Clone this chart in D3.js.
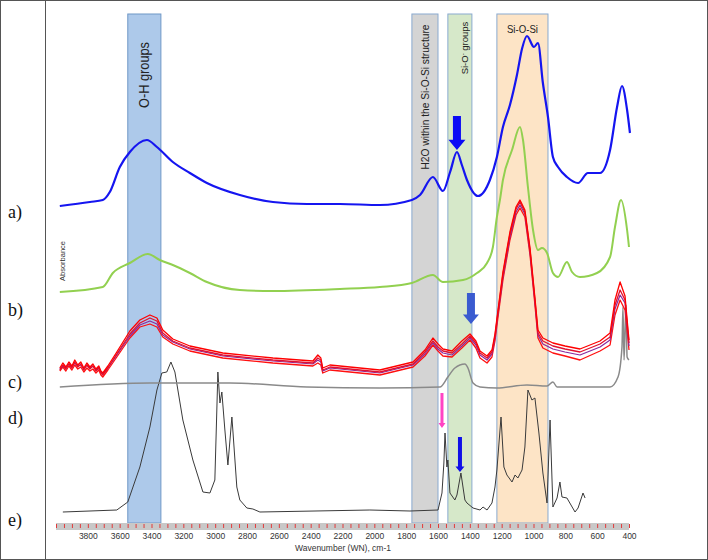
<!DOCTYPE html>
<html>
<head>
<meta charset="utf-8">
<script src="https://cdn.jsdelivr.net/npm/d3@7"></script>
<style>
  body { margin: 0; background: #fff; }
  svg { display: block; font-family: "Liberation Sans", Arial, sans-serif; }
</style>
</head>
<body>
<div id="chart"></div>
<script>
// spectra: wavenumber (cm-1) and stacked absorbance (arbitrary units)
const blueWN = [3976,3787,3706,3662,3599,3536,3429,3366,3266,3159,3052,2845,2637,2424,2216,1965,1764,1713,1632,1569,1524,1481,1450,1418,1349,1274,1230,1192,1148,1104,1071,1041,997,972,941,909,878,846,790,720,658,582,519,475,444,412,394];
const blueAbs = [33.4,33.8,34.0,34.8,37.3,38.8,40.0,39.3,37.8,36.7,35.7,34.5,33.8,33.6,33.6,33.5,34.0,34.5,36.3,34.9,36.8,38.8,37.5,36.0,34.4,36.0,38.3,41.3,43.5,46.5,49.2,50.4,49.3,49.7,45.7,42.3,38.3,37.3,36.3,35.7,36.7,36.7,39.0,43.3,45.4,43.0,40.7];

const greenWN = [3976,3706,3643,3536,3423,3348,3266,3159,3052,2845,2637,2216,1965,1764,1632,1569,1443,1355,1292,1255,1230,1211,1192,1135,1085,1066,1035,1003,972,947,915,878,846,790,758,708,601,519,488,450,412,400];
const greenAbs = [24.8,25.3,26.7,27.7,28.6,28.0,27.5,26.7,25.8,25.0,24.9,25.1,25.3,25.7,26.5,25.8,26.0,26.7,27.7,29.3,32.3,34.0,36.0,39.0,41.3,40.0,35.3,31.0,29.0,29.2,28.7,26.7,26.3,27.8,26.8,26.3,26.7,28.3,31.3,34.0,31.0,29.3];

const redWN = [3976,3957,3938,3919,3900,3882,3863,3844,3825,3806,3787,3768,3749,3731,3718,3706,3674,3618,3536,3473,3410,3366,3329,3266,3159,2952,2637,2386,2355,2336,2324,2279,1965,1757,1682,1632,1600,1569,1512,1450,1399,1362,1336,1292,1261,1242,1223,1192,1148,1110,1085,1054,1022,991,972,941,878,802,708,582,519,488,456,425,406,400];
const redA = [17.2,17.7,17.3,17.8,17.4,18.0,17.5,17.8,17.2,17.7,17.3,17.6,17.1,17.4,16.9,16.7,17.4,18.8,20.9,22.0,22.5,22.2,21.0,20.1,19.4,18.7,18.2,17.9,18.5,18.2,17.2,17.5,17.0,17.8,19.0,20.2,19.6,19.1,18.9,19.9,20.6,19.9,18.9,18.4,19.0,20.6,23.0,26.8,30.8,33.3,34.0,33.0,29.2,24.2,21.0,20.2,19.7,19.4,19.1,19.9,20.7,24.0,25.8,24.4,21.0,20.0];
const redB = [17.0,17.5,17.1,17.6,17.2,17.8,17.3,17.6,17.0,17.5,17.1,17.4,16.9,17.2,16.7,16.5,17.2,18.6,20.6,21.7,22.2,21.9,20.7,19.9,19.2,18.5,18.0,17.7,18.2,18.0,17.0,17.3,16.8,17.6,18.8,19.9,19.3,18.9,18.7,19.6,20.4,19.7,18.7,18.2,18.8,20.4,22.8,26.6,30.6,33.1,33.8,32.8,29.0,24.0,20.7,19.9,19.4,19.1,18.8,19.6,20.3,23.5,25.0,24.0,20.7,19.7];
const redC = [17.1,17.4,17.2,17.6,17.3,17.7,17.4,17.5,17.1,17.5,17.2,17.4,17.0,17.3,16.8,16.6,17.2,18.5,20.4,21.5,21.9,21.6,20.5,19.8,19.1,18.4,17.9,17.6,18.0,17.8,16.9,17.2,16.7,17.5,18.6,19.7,19.1,18.7,18.5,19.4,20.2,19.5,18.5,18.0,18.6,20.2,22.6,26.3,30.3,32.8,33.5,32.6,28.8,23.8,20.5,19.6,19.1,18.8,18.5,19.3,20.0,23.1,24.5,23.7,20.4,19.4];
const redD = [16.9,17.3,16.9,17.4,17.0,17.5,17.1,17.3,16.8,17.2,16.9,17.1,16.7,17.0,16.5,16.3,17.0,18.3,20.2,21.3,21.6,21.3,20.3,19.6,18.9,18.2,17.7,17.4,17.7,17.5,16.7,17.0,16.5,17.3,18.4,19.5,18.9,18.4,18.3,19.2,20.0,19.2,18.2,17.7,18.3,19.9,22.3,26.0,30.0,32.5,33.2,32.3,28.5,23.5,20.2,19.2,18.7,18.4,18.0,18.9,19.5,22.5,24.0,23.0,20.0,19.0];

const grayWN = [3976,3410,2908,2424,1965,1588,1538,1494,1431,1412,1380,1336,1230,1041,915,878,852,519,469,444,438,431,419,412,400];
const grayAbs = [15.3,15.7,15.7,15.3,15.2,15.3,16.3,17.2,17.6,17.2,15.7,15.3,15.2,15.5,15.4,15.8,15.3,15.3,16.3,19.3,23.3,18.0,23.5,18.3,18.0];

const blackWN = [3957,3618,3549,3473,3410,3366,3335,3304,3278,3253,3203,3140,3077,3033,3002,2989,2983,2970,2958,2939,2920,2895,2889,2864,2845,2801,2763,2719,2028,1776,1600,1575,1563,1556,1544,1538,1525,1494,1481,1456,1431,1418,1380,1336,1317,1292,1261,1242,1230,1204,1186,1167,1135,1116,1098,1072,1054,1035,1010,991,966,941,915,896,878,852,834,821,790,739,720,689,676];
const blackAbs = [2.8,3.0,3.8,7.3,11.3,15.0,16.7,16.8,17.8,16.8,12.0,8.0,4.8,4.7,6.0,13.3,16.8,13.7,14.8,11.0,7.5,12.3,11.0,5.3,4.0,3.2,3.1,2.8,3.0,2.9,3.0,4.7,7.7,10.7,7.3,8.0,4.7,4.0,4.5,6.7,4.0,3.7,3.2,3.0,3.3,3.0,3.7,5.3,7.0,12.3,7.3,6.5,5.8,6.5,6.2,7.0,9.3,15.0,14.0,14.2,10.7,6.7,3.7,12.0,3.3,4.2,5.8,4.3,4.2,2.8,3.2,4.7,4.2];

// shaded assignment bands
const bandFrom = [3549, 1764, 1538, 1230];
const bandTo = [3341, 1600, 1387, 909];
const bandFill = ["#adc9ea", "#d4d4d4", "#d6e8c9", "#fde4c6"];

// tick labels
const tickLabels = [3800,3600,3400,3200,3000,2800,2600,2400,2200,2000,1800,1600,1400,1200,1000,800,600,400];
const minorTicks = d3.range(4000, 399, -50);

// arrows: wavenumber, top and tip absorbance
const arrowWN = [1481, 1393, 1575, 1462];
const arrowTop = [42.4, 24.7, 14.7, 10.3];
const arrowTip = [39.0, 21.6, 11.2, 6.8];
const arrowColor = ["#0a0af5", "#3a5bd0", "#ff44c4", "#1010e8"];
const arrowShaft = [8, 8, 3, 4];
const arrowHead = [17, 16, 7, 9];

const sampleLabels = ["a)", "b)", "c)", "d)", "e)"];
const sampleLabelY = [218, 316, 388, 424, 526];

const W = 708, H = 560;
const svg = d3.select("#chart").append("svg").attr("width", W).attr("height", H);

const x = d3.scaleLinear().domain([4000, 400]).range([56, 629]);
const y = d3.scaleLinear().domain([0, 52]).range([540, 20]);

// frame
svg.append("rect").attr("x", 0.5).attr("y", 0.5).attr("width", W - 1).attr("height", H - 1)
    .attr("fill", "none").attr("stroke", "#555");
svg.append("line").attr("x1", 45.5).attr("x2", 45.5).attr("y1", 0).attr("y2", H)
    .attr("stroke", "#555");

// bands
svg.selectAll("rect.band")
    .data(bandFrom)
    .enter().append("rect")
    .attr("class", "band")
    .attr("x", (d, i) => x(d))
    .attr("width", (d, i) => x(bandTo[i]) - x(d))
    .attr("y", 14)
    .attr("height", 509)
    .attr("fill", (d, i) => bandFill[i])
    .attr("stroke", (d, i) => i === 0 ? "#6f97c6" : "#8aaad0")
    .attr("stroke-width", 1);

function bandMid(i) { return (x(bandFrom[i]) + x(bandTo[i])) / 2; }

// band titles
svg.append("text")
    .attr("transform", `translate(${bandMid(0) + 5},75) rotate(-90)`)
    .attr("text-anchor", "middle")
    .attr("font-size", 14).attr("fill", "#222")
    .attr("textLength", 66).attr("lengthAdjust", "spacingAndGlyphs")
    .text("O-H groups");

svg.append("text")
    .attr("transform", `translate(${bandMid(1) + 4},97) rotate(-90)`)
    .attr("text-anchor", "middle")
    .attr("font-size", 10.5).attr("fill", "#222")
    .attr("textLength", 145).attr("lengthAdjust", "spacingAndGlyphs")
    .text("H2O within the Si-O-Si structure");

const siO = svg.append("text")
    .attr("transform", `translate(${bandMid(2) + 8},48) rotate(-90)`)
    .attr("text-anchor", "middle")
    .attr("font-size", 9.5).attr("fill", "#222");
siO.append("tspan").text("Si-O");
siO.append("tspan").attr("dy", -3).attr("font-size", 6).text("-");
siO.append("tspan").attr("dy", 3).text(" groups");

svg.append("text")
    .attr("x", bandMid(3)).attr("y", 33)
    .attr("text-anchor", "middle")
    .attr("font-size", 10.5).attr("fill", "#222")
    .attr("textLength", 31).attr("lengthAdjust", "spacingAndGlyphs")
    .text("Si-O-Si");

// spectra
const smooth = d3.line().x(d => x(d[0])).y(d => y(d[1])).curve(d3.curveMonotoneX);
const rough = d3.line().x(d => x(d[0])).y(d => y(d[1]));

function drawSpectrum(wn, abs, color, width, gen) {
    svg.append("path")
        .datum(wn.map((w, i) => [w, abs[i]]))
        .attr("d", gen)
        .attr("fill", "none")
        .attr("stroke", color)
        .attr("stroke-width", width)
        .attr("stroke-linejoin", "round");
}

drawSpectrum(blackWN, blackAbs, "#3a3a3a", 1, rough);
drawSpectrum(grayWN, grayAbs, "#8a8a8a", 1.5, smooth);
drawSpectrum(redWN, redD, "#ff1010", 1.3, rough);
drawSpectrum(redWN, redC, "#8a2a9e", 1.2, rough);
drawSpectrum(redWN, redB, "#e01030", 1.3, rough);
drawSpectrum(redWN, redA, "#ff0000", 1.3, rough);
drawSpectrum(greenWN, greenAbs, "#92d050", 2, smooth);
drawSpectrum(blueWN, blueAbs, "#1515f0", 2.2, smooth);

// arrows
svg.selectAll("path.arrow")
    .data(arrowWN)
    .enter().append("path")
    .attr("class", "arrow")
    .attr("fill", (d, i) => arrowColor[i])
    .attr("d", (d, i) => {
        const cx = x(d), t = y(arrowTop[i]), tip = y(arrowTip[i]);
        const s = arrowShaft[i] / 2, h = arrowHead[i] / 2;
        const hb = tip - Math.max(arrowHead[i] * 0.6, 5);
        return `M${cx - s},${t}L${cx + s},${t}L${cx + s},${hb}L${cx + h},${hb}L${cx},${tip}L${cx - h},${hb}L${cx - s},${hb}Z`;
    });

// x axis: grey band, red minor ticks, labels
svg.append("rect")
    .attr("x", x(4000)).attr("width", x(400) - x(4000))
    .attr("y", 523).attr("height", 7)
    .attr("fill", "#c8c8c8");

const minor = svg.append("g").attr("transform", "translate(0,528)")
    .call(d3.axisTop(x).tickValues(minorTicks).tickSize(4).tickFormat(""));
minor.select(".domain").remove();
minor.selectAll("line").attr("stroke", "#e23b3b");

const ax = svg.append("g").attr("transform", "translate(0,530)")
    .call(d3.axisBottom(x).tickValues(tickLabels).tickSize(0).tickPadding(3).tickFormat(d3.format("d")));
ax.select(".domain").remove();
ax.selectAll("text").attr("font-size", 8.5).attr("fill", "#333")
    .attr("font-family", "Liberation Sans, Arial, sans-serif");

svg.append("text")
    .attr("x", 343).attr("y", 551)
    .attr("text-anchor", "middle")
    .attr("font-size", 8.5).attr("fill", "#333")
    .text("Wavenumber (WN), cm-1");

svg.append("text")
    .attr("transform", "translate(65,261) rotate(-90)")
    .attr("text-anchor", "middle")
    .attr("font-size", 7.5).attr("fill", "#333")
    .text("Absorbance");

// sample labels
svg.selectAll("text.sample")
    .data(sampleLabels)
    .enter().append("text")
    .attr("class", "sample")
    .attr("x", 8)
    .attr("y", (d, i) => sampleLabelY[i])
    .attr("font-family", "Liberation Serif, Times New Roman, serif")
    .attr("font-size", 18).attr("fill", "#111")
    .text(d => d);
</script>
</body>
</html>
